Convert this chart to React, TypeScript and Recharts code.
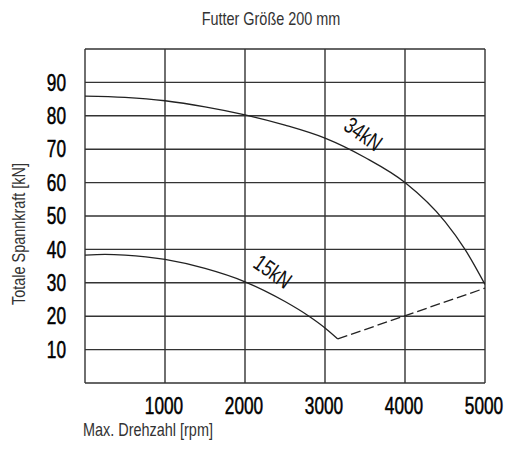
import { LineChart, Line, XAxis, YAxis, CartesianGrid, ReferenceDot } from 'recharts'

// 34kN Kurve
const rpm34 = [0, 500, 1000, 1500, 2000, 2500, 3000, 3500, 4000, 4500, 4750, 5000]
const force34 = [85.9, 85.5, 84.5, 82.7, 80.3, 77.2, 73.3, 67.5, 60.0, 48.3, 40.0, 29.5]

// 15kN Kurve
const rpm15 = [0, 250, 500, 1000, 1500, 2000, 2500, 2800, 3000, 3160]
const force15 = [38.3, 38.5, 38.3, 37.0, 34.3, 30.3, 24.4, 20.0, 16.5, 13.2]

// gestrichelte Linie
const rpmDash = [3160, 5000]
const forceDash = [13.2, 28.4]

const xTicks = [0, 1000, 2000, 3000, 4000, 5000]
const yTicks = [0, 10, 20, 30, 40, 50, 60, 70, 80, 90, 100]

const curveLabels = [
  { text: '34kN', rpm: 3480, kn: 74.6 },
  { text: '15kN', rpm: 2350, kn: 33.4 },
]

const toRows = (xs: number[], ys: number[]) => xs.map((rpm, i) => ({ rpm, kn: ys[i] }))

const FONT = '"Liberation Sans", Arial, sans-serif'
const NARROW = 0.78 // Schrift schmaler machen (keine Narrow-Schrift installiert)

function CurveLabel(props: any) {
  const { viewBox, value } = props
  const cx = viewBox.x + viewBox.width / 2
  const cy = viewBox.y + viewBox.height / 2
  return (
    <g transform={`translate(${cx}, ${cy}) rotate(35) scale(0.75, 1)`}>
      <text textAnchor="middle" dy="0.355em" fontFamily={FONT} fontSize={23} fill="#111">
        {value}
      </text>
    </g>
  )
}

function XTick({ x, y, payload }: any) {
  if (payload.value === 0) return null
  return (
    <g transform={`translate(${x - 1}, ${y}) scale(0.75, 1)`}>
      <text textAnchor="middle" dy="0.71em" fontFamily={FONT} fontSize={23} fill="#000" stroke="#000" strokeWidth={0.5}>
        {payload.value}
      </text>
    </g>
  )
}

function YTick({ x, y, payload }: any) {
  if (payload.value === 0 || payload.value === 100) return null
  return (
    <g transform={`translate(${x}, ${y}) scale(0.75, 1)`}>
      <text textAnchor="end" dy="0.355em" fontFamily={FONT} fontSize={23} fill="#000" stroke="#000" strokeWidth={0.5}>
        {payload.value}
      </text>
    </g>
  )
}

const smallText = { fontSize: 18.5, color: '#333', whiteSpace: 'nowrap' as const, position: 'absolute' as const }

export default function App() {
  return (
    <div style={{ position: 'absolute', left: 0, top: 0, width: 509, height: 450, background: '#fff', fontFamily: FONT }}>
      <div style={{ ...smallText, left: 271, top: 19, transform: `translate(-50%, -50%) scaleX(${NARROW})` }}>
        Futter Größe 200 mm
      </div>
      <div style={{ ...smallText, left: 19, top: 234, transform: `translate(-50%, -50%) rotate(-90deg) scaleX(${NARROW})` }}>
        Totale Spannkraft [kN]
      </div>
      <div style={{ ...smallText, left: 83, top: 430, transformOrigin: 'left center', transform: `translateY(-50%) scaleX(${NARROW})` }}>
        Max. Drehzahl [rpm]
      </div>

      <LineChart width={509} height={450} margin={{ top: 49, right: 24, left: 25, bottom: 37 }}>
        <CartesianGrid stroke="#333" strokeWidth={1.4} />
        <XAxis
          dataKey="rpm"
          type="number"
          domain={[0, 5000]}
          ticks={xTicks}
          height={30}
          axisLine={false}
          tickLine={false}
          tickSize={0}
          tickMargin={15}
          tick={<XTick />}
          allowDataOverflow
        />
        <YAxis
          type="number"
          domain={[0, 100]}
          ticks={yTicks}
          width={60}
          axisLine={false}
          tickLine={false}
          tickSize={0}
          tickMargin={19}
          tick={<YTick />}
          allowDataOverflow
        />
        <Line
          data={toRows(rpm34, force34)}
          dataKey="kn"
          type="monotone"
          stroke="#222"
          strokeWidth={1.3}
          dot={false}
          isAnimationActive={false}
        />
        <Line
          data={toRows(rpm15, force15)}
          dataKey="kn"
          type="monotone"
          stroke="#222"
          strokeWidth={1.3}
          dot={false}
          isAnimationActive={false}
        />
        <Line
          data={toRows(rpmDash, forceDash)}
          dataKey="kn"
          type="linear"
          stroke="#222"
          strokeWidth={1.3}
          strokeDasharray="10 4"
          dot={false}
          isAnimationActive={false}
        />
        {curveLabels.map((c) => (
          <ReferenceDot
            key={c.text}
            x={c.rpm}
            y={c.kn}
            r={1}
            fill="none"
            stroke="none"
            label={<CurveLabel value={c.text} />}
          />
        ))}
      </LineChart>
    </div>
  )
}
